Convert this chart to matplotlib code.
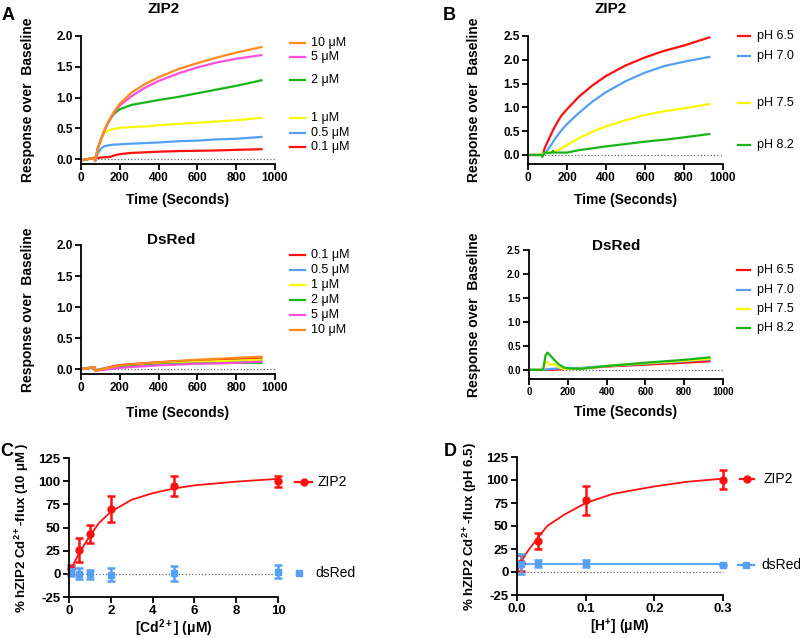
import matplotlib
matplotlib.use('Agg')
import matplotlib.pyplot as plt
from matplotlib.lines import Line2D

plt.rcParams['font.family'] = ['Liberation Sans', 'DejaVu Sans']
plt.rcParams['mathtext.default'] = 'regular'

W, H = 800, 638

RED = '#FF1010'
BLUE = '#55A0F5'
YELLOW = '#F8F800'
GREEN = '#19B419'
PINK = '#FF4FDC'
ORANGE = '#FF8A1E'

# ---- panel A, ZIP2 (Cd2+ dose)
t_a = [0, 70, 73, 86, 103, 120, 138, 155, 172, 200, 260, 330, 400, 500, 600, 700, 800, 930]
zip2_cd_01 = [-0.02, 0.02, 0.01, 0.02, 0.025, 0.03, 0.03, 0.04, 0.06, 0.08, 0.10, 0.11, 0.12, 0.13, 0.135, 0.14, 0.15, 0.16]
zip2_cd_05 = [-0.02, 0.02, -0.03, 0.09, 0.17, 0.21, 0.22, 0.23, 0.235, 0.24, 0.25, 0.26, 0.27, 0.29, 0.30, 0.32, 0.33, 0.36]
zip2_cd_1 = [-0.02, 0.02, -0.03, 0.15, 0.32, 0.42, 0.46, 0.48, 0.49, 0.51, 0.52, 0.53, 0.55, 0.57, 0.59, 0.61, 0.63, 0.67]
zip2_cd_2 = [-0.02, 0.02, -0.03, 0.17, 0.32, 0.46, 0.58, 0.67, 0.74, 0.81, 0.88, 0.92, 0.96, 1.01, 1.07, 1.13, 1.19, 1.28]
zip2_cd_5 = [-0.02, 0.02, -0.03, 0.17, 0.32, 0.46, 0.58, 0.68, 0.76, 0.87, 1.02, 1.16, 1.27, 1.39, 1.49, 1.57, 1.63, 1.69]
zip2_cd_10 = [-0.02, 0.02, -0.03, 0.17, 0.32, 0.46, 0.59, 0.69, 0.78, 0.90, 1.08, 1.22, 1.33, 1.46, 1.56, 1.65, 1.73, 1.82]

# ---- panel A, DsRed
t_a2 = [0, 70, 72, 200, 400, 600, 800, 930]
ds_cd_01 = [0.0, 0.03, -0.02, 0.065, 0.11, 0.14, 0.16, 0.17]
ds_cd_05 = [0.0, 0.03, -0.02, 0.04, 0.08, 0.11, 0.13, 0.14]
ds_cd_1 = [0.0, 0.03, -0.02, 0.04, 0.085, 0.115, 0.135, 0.15]
ds_cd_2 = [0.0, 0.03, -0.02, 0.035, 0.07, 0.09, 0.10, 0.10]
ds_cd_5 = [0.0, 0.03, -0.03, 0.02, 0.06, 0.085, 0.10, 0.12]
ds_cd_10 = [0.0, 0.03, -0.03, 0.06, 0.11, 0.15, 0.18, 0.20]

cd_labels = ['0.1 μM', '0.5 μM', '1 μM', '2 μM', '5 μM', '10 μM']
cd_colors = [RED, BLUE, YELLOW, GREEN, PINK, ORANGE]

# ---- panel B, ZIP2 (pH)
t_b = [0, 70, 73, 86, 103, 120, 125, 128, 132, 155, 172, 200, 260, 330, 400, 500, 600, 700, 800, 930]
zip2_ph65 = [0, 0, -0.03, 0.15, 0.30, 0.45, 0.49, 0.52, 0.55, 0.72, 0.83, 0.96, 1.22, 1.46, 1.66, 1.88, 2.05, 2.19, 2.30, 2.47]
zip2_ph70 = [0, 0, -0.02, 0.03, 0.12, 0.22, 0.25, 0.27, 0.30, 0.43, 0.52, 0.65, 0.88, 1.12, 1.32, 1.55, 1.73, 1.87, 1.96, 2.06]
zip2_ph75 = [0, 0, 0.02, 0.05, 0.05, 0.04, 0.05, 0.05, 0.06, 0.10, 0.14, 0.21, 0.35, 0.49, 0.60, 0.73, 0.84, 0.92, 0.98, 1.07]
zip2_ph82 = [0, 0, -0.04, 0.06, 0.04, 0.05, 0.05, 0.09, 0.05, 0.05, 0.05, 0.05, 0.10, 0.14, 0.18, 0.23, 0.28, 0.32, 0.37, 0.44]

# ---- panel B, DsRed
t_b2 = [0, 70, 75, 85, 95, 110, 130, 155, 180, 205, 260, 400, 600, 800, 930]
ds_ph65 = [0, 0, 0, 0, 0, 0, 0.005, 0.01, 0.015, 0.02, 0.03, 0.07, 0.11, 0.15, 0.18]
ds_ph70 = [0, 0, 0, 0.01, 0.01, 0.02, 0.025, 0.03, 0.035, 0.04, 0.04, 0.08, 0.13, 0.18, 0.22]
ds_ph75 = [0, 0, 0.03, 0.15, 0.17, 0.10, 0.13, 0.05, 0.02, 0.02, 0.02, 0.08, 0.14, 0.19, 0.23]
ds_ph82 = [0, 0, 0.05, 0.30, 0.36, 0.30, 0.21, 0.11, 0.05, 0.03, 0.02, 0.08, 0.15, 0.21, 0.26]

ph_labels = ['pH 6.5', 'pH 7.0', 'pH 7.5', 'pH 8.2']
ph_colors = [RED, BLUE, YELLOW, GREEN]

# ---- panel C
cd_conc = [0.1, 0.5, 1, 2, 5, 10]
c_zip2 = [5, 26, 43, 70, 95, 100]
c_zip2_err = [5, 13, 10, 14.5, 10.5, 6]
c_ds = [3, 0, -0.5, -1, 0.5, 2.5]
c_ds_err = [5, 6, 5, 7, 8, 7]
c_fit_x = [0, 0.25, 0.5, 1.0, 1.44, 2.0, 3.0, 4.0, 5.0, 6.0, 8.0, 10.0]
c_fit_y = [0, 12, 23, 41, 55, 67, 80, 87, 92, 95.5, 99.5, 102.5]

# ---- panel D
h_conc = [0.006, 0.03, 0.1, 0.3]
d_zip2 = [10, 34, 78, 100.5]
d_zip2_err = [9, 8.5, 16, 10.5]
d_ds = [9, 9.4, 9.4, 8]
d_ds_err = [11, 3.5, 4, 0]
d_fit_x = [0, 0.005, 0.015, 0.03, 0.044, 0.068, 0.1, 0.14, 0.2, 0.247, 0.3]
d_fit_y = [0, 10, 22, 37, 50, 62, 75, 85, 93, 98, 101.5]
d_ds_fit_x = [0, 0.3]
d_ds_fit_y = [9.2, 9.2]


def box(x0, y0, x1, y1):
    return [x0 / W, 1 - y1 / H, (x1 - x0) / W, (y1 - y0) / H]


def fp(x, y):
    return x / W, 1 - y / H


def style(ax, xlim, ylim, xticks, xlabels, yticks, ylabels, size=8.5):
    ax.set_xlim(xlim)
    ax.set_ylim(ylim)
    ax.spines[['top', 'right']].set_visible(False)
    ax.spines[['left', 'bottom']].set_linewidth(1.3)
    ax.set_xticks(xticks, labels=xlabels, fontweight='bold', fontsize=size)
    ax.set_yticks(yticks, labels=ylabels, fontweight='bold', fontsize=size)
    ax.tick_params(direction='out', length=4, width=1.3, pad=2)
    ax.axhline(0, color='0.4', ls=':', lw=0.9, zorder=0)
    ax.patch.set_visible(False)


def labels(ax, box_px, xlab, ylab, xlab_top, ylab_right, ysize=10):
    # place axis labels by pixel position of the label's top / right edge
    x0, y0, x1, y1 = box_px
    ax.set_xlabel(xlab, fontweight='bold', fontsize=10)
    ax.xaxis.set_label_coords(0.5, -(xlab_top - y1) / (y1 - y0))
    ax.set_ylabel(ylab, fontweight='bold', fontsize=ysize)
    ax.yaxis.set_label_coords((ylab_right - x0) / (x1 - x0), 0.5)


def legend_line(fig, x0, x1, y, color, label, tx, size=9, marker=None, line=True):
    if line:
        fig.add_artist(Line2D([x0 / W, x1 / W], [1 - y / H] * 2, color=color, lw=1.6,
                              transform=fig.transFigure))
    if marker:
        xm = (x0 + x1) / 2
        fig.add_artist(Line2D([xm / W], [1 - y / H], color=color, marker=marker, ms=5,
                              ls='none', transform=fig.transFigure))
    fig.text(*fp(tx, y), label, fontsize=size, va='center', ha='left')


fig = plt.figure(figsize=(8, 6.38), dpi=100)

xt = [0, 200, 400, 600, 800, 1000]
xtl = [str(v) for v in xt]
yt = [0, 0.5, 1.0, 1.5, 2.0]
ytb = [0, 0.5, 1.0, 1.5, 2.0, 2.5]

# A top
bx = (81, 36, 275, 164)
ax = fig.add_axes(box(*bx))
for ys, c in zip([zip2_cd_01, zip2_cd_05, zip2_cd_1, zip2_cd_2, zip2_cd_5, zip2_cd_10], cd_colors):
    ax.plot(t_a, ys, color=c, lw=1.6)
style(ax, (0, 1000), (-0.08, 2.0), xt, xtl, yt, ['%.1f' % v for v in yt])
labels(ax, bx, 'Time (Seconds)', 'Response over  Baseline', 193, 35)
fig.text(*fp(164, 9), 'ZIP2', fontsize=11, fontweight='bold', ha='center', va='center')
for lab, c, y in zip(cd_labels[::-1], cd_colors[::-1], [43, 57, 80, 118, 133, 147]):
    legend_line(fig, 290, 305, y, c, lab, 311)

# A bottom
bx = (81, 245, 275, 374)
ax = fig.add_axes(box(*bx))
for ys, c in zip([ds_cd_01, ds_cd_05, ds_cd_1, ds_cd_2, ds_cd_5, ds_cd_10], cd_colors):
    ax.plot(t_a2, ys, color=c, lw=1.6)
style(ax, (0, 1000), (-0.08, 2.0), xt, xtl, yt, ['%.1f' % v for v in yt])
labels(ax, bx, 'Time (Seconds)', 'Response over  Baseline', 406, 35)
fig.text(*fp(171, 240), 'DsRed', fontsize=11, fontweight='bold', ha='center', va='center')
for lab, c, y in zip(cd_labels, cd_colors, [255, 270, 285, 300, 315, 330]):
    legend_line(fig, 290, 305, y, c, lab, 311)

# B top
bx = (528, 36, 723, 164)
ax = fig.add_axes(box(*bx))
for ys, c in zip([zip2_ph65, zip2_ph70, zip2_ph75, zip2_ph82], ph_colors):
    ax.plot(t_b, ys, color=c, lw=1.6)
style(ax, (0, 1000), (-0.19, 2.5), xt, xtl, ytb, ['%.1f' % v for v in ytb])
labels(ax, bx, 'Time (Seconds)', 'Response over  Baseline', 193, 481)
fig.text(*fp(611, 9), 'ZIP2', fontsize=11, fontweight='bold', ha='center', va='center')
for lab, c, y in zip(ph_labels, ph_colors, [36, 56, 103, 145]):
    legend_line(fig, 738, 750, y, c, lab, 757)

# B bottom
bx = (529, 250, 723, 379)
ax = fig.add_axes(box(*bx))
for ys, c in zip([ds_ph65, ds_ph70, ds_ph75, ds_ph82], ph_colors):
    ax.plot(t_b2, ys, color=c, lw=1.6)
style(ax, (0, 1000), (-0.19, 2.5), xt, xtl, ytb, ['%.1f' % v for v in ytb], size=7)
labels(ax, bx, 'Time (Seconds)', 'Response over  Baseline', 405, 481)
fig.text(*fp(616, 246), 'DsRed', fontsize=11, fontweight='bold', ha='center', va='center')
for lab, c, y in zip(ph_labels, ph_colors, [270, 290, 309, 328]):
    legend_line(fig, 737, 750, y, c, lab, 757)

# C
yc = [-25, 0, 25, 50, 75, 100, 125]
bx = (69, 458, 278, 597)
ax = fig.add_axes(box(*bx))
ax.plot(c_fit_x, c_fit_y, color=RED, lw=1.3)
ax.errorbar(cd_conc, c_zip2, yerr=c_zip2_err, fmt='o', color=RED, ms=5,
            capsize=3, elinewidth=1.8, capthick=1.8)
ax.errorbar(cd_conc, c_ds, yerr=c_ds_err, fmt='s', color=BLUE, ms=5,
            capsize=3, elinewidth=1.8, capthick=1.8)
xc = [0, 2, 4, 6, 8, 10]
style(ax, (0, 10), (-25, 125), xc, [str(v) for v in xc], yc, [str(v) for v in yc], size=9.5)
for a in (ax.lines + ax.collections):
    a.set_clip_on(False)
labels(ax, bx, '[Cd$^{2+}$] (μM)', '% hZIP2 Cd$^{2+}$-flux (10 μM )', 617, 31, ysize=9.5)
legend_line(fig, 295, 312, 482, RED, 'ZIP2', 317, size=10, marker='o')
legend_line(fig, 292, 306, 573, BLUE, 'dsRed', 315, size=10, marker='s', line=False)

# D
bx = (517, 457, 723, 595)
ax = fig.add_axes(box(*bx))
ax.plot(d_fit_x, d_fit_y, color=RED, lw=1.3)
ax.plot(d_ds_fit_x, d_ds_fit_y, color=BLUE, lw=1.3)
ax.errorbar(h_conc, d_zip2, yerr=d_zip2_err, fmt='o', color=RED, ms=5,
            capsize=3, elinewidth=1.8, capthick=1.8)
ax.errorbar(h_conc, d_ds, yerr=d_ds_err, fmt='s', color=BLUE, ms=5,
            capsize=3, elinewidth=1.8, capthick=1.8)
xd = [0, 0.1, 0.2, 0.3]
style(ax, (0, 0.3), (-25, 125), xd, ['%.1f' % v for v in xd], yc, [str(v) for v in yc], size=9.5)
for a in (ax.lines + ax.collections):
    a.set_clip_on(False)
labels(ax, bx, '[H$^{+}$] (μM)', '% hZIP2 Cd$^{2+}$-flux (pH 6.5)', 617, 479, ysize=9.5)
legend_line(fig, 740, 754, 479, RED, 'ZIP2', 763, size=10, marker='o')
legend_line(fig, 738, 754, 565, BLUE, 'dsRed', 761, size=10, marker='s')

# panel letters
for letter, (x, y) in zip('ABCD', [(8, 16), (449, 16), (7, 452), (450, 451)]):
    fig.text(*fp(x, y), letter, fontsize=13, fontweight='bold', ha='center', va='center')

fig.savefig('out.png', dpi=100)
